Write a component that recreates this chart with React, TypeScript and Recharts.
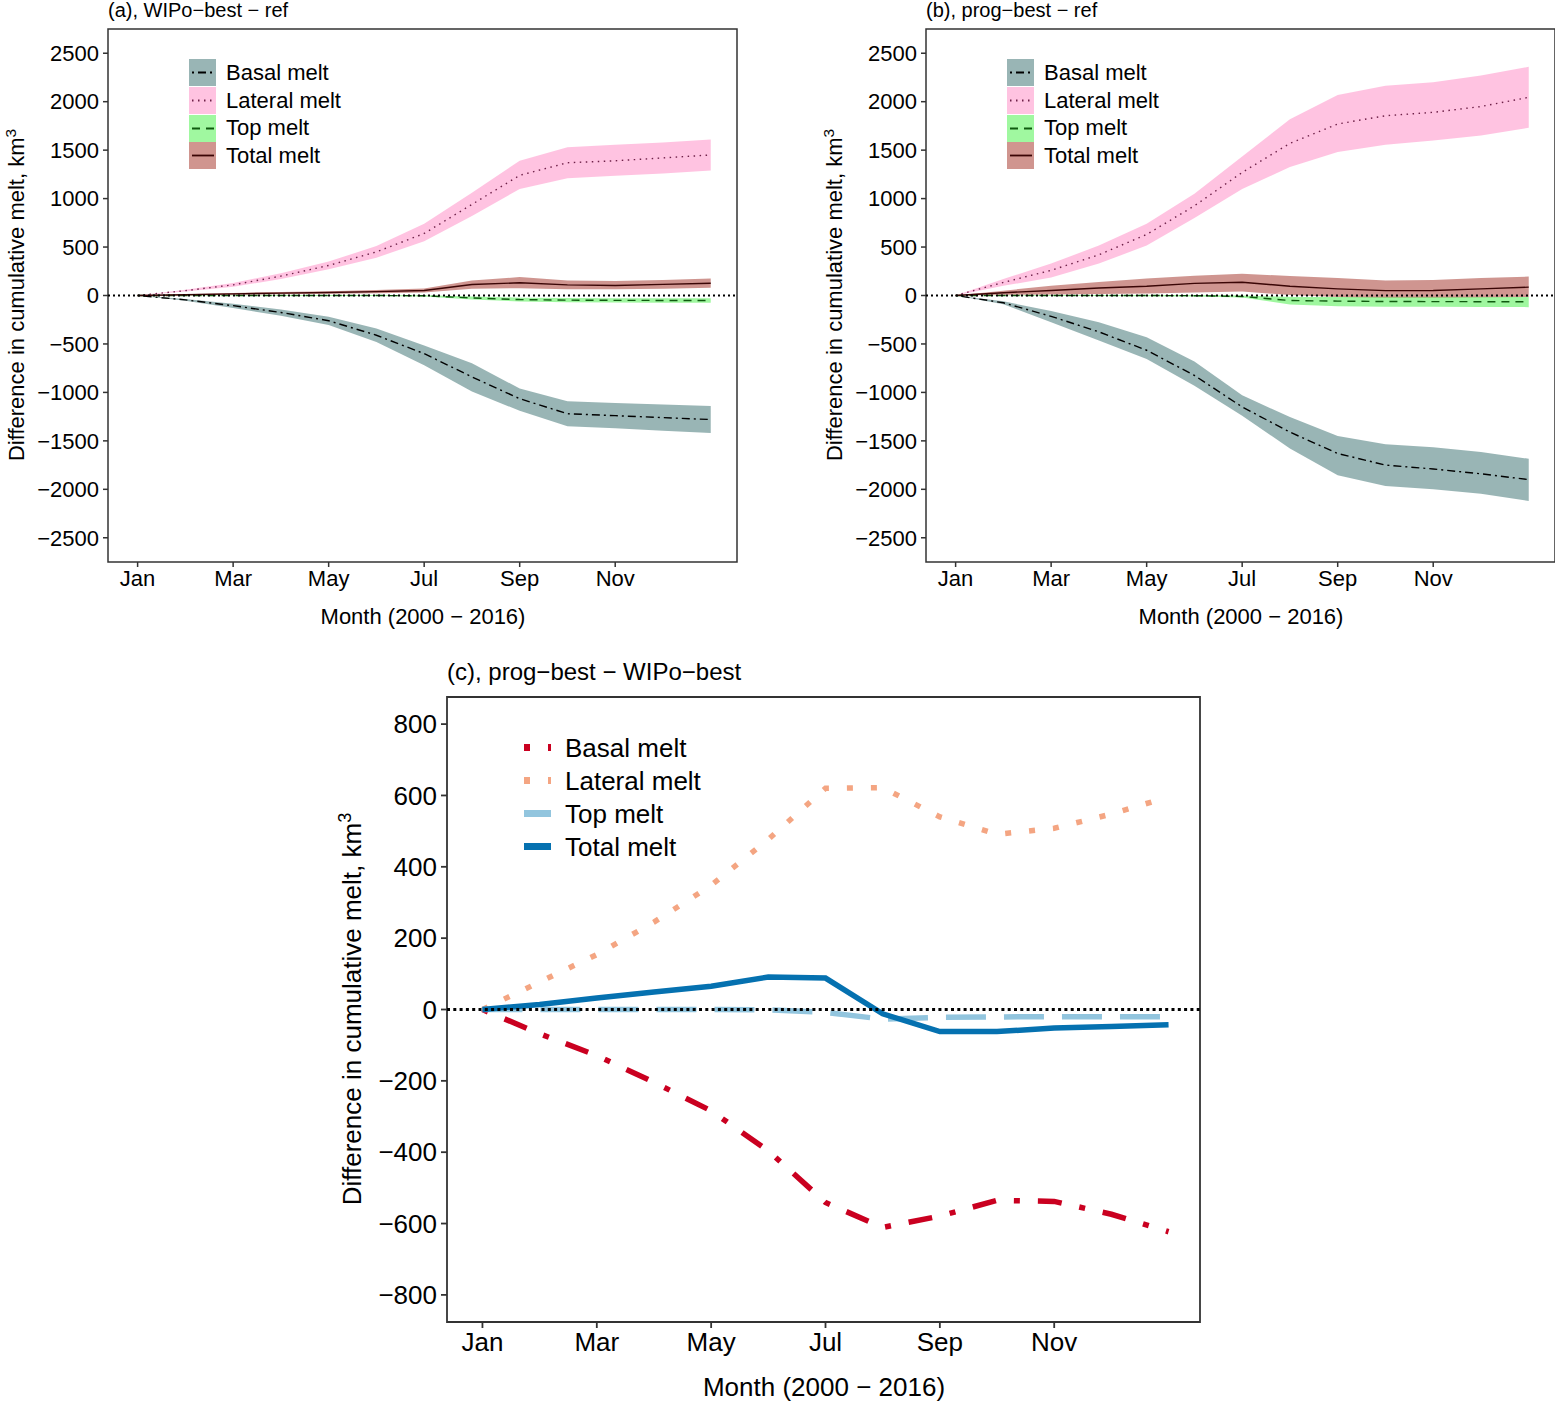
import React from "react";
import {
  ComposedChart,
  Area,
  Line,
  XAxis,
  YAxis,
  ReferenceLine,
  ReferenceArea,
  Legend,
} from "recharts";

const FONT = "'Liberation Sans', Arial, sans-serif";

const months = [0, 1, 2, 3, 4, 5, 6, 7, 8, 9, 10, 11, 12];
const monthTicks = [0, 2, 4, 6, 8, 10];
const monthLabels = ["Jan", "Mar", "May", "Jul", "Sep", "Nov"];
const seriesNames = ["Basal melt", "Lateral melt", "Top melt", "Total melt"];
const ticksAB = [-2500, -2000, -1500, -1000, -500, 0, 500, 1000, 1500, 2000, 2500];
const ticksC = [-800, -600, -400, -200, 0, 200, 400, 600, 800];

// (a) WIPo-best - ref
const basalA = [0, -45, -105, -175, -260, -410, -600, -840, -1065, -1220, -1240, -1260, -1280];
const basalALow = [0, -55, -130, -210, -305, -480, -720, -990, -1190, -1350, -1370, -1395, -1420];
const basalAHigh = [0, -35, -85, -145, -220, -340, -515, -700, -960, -1090, -1110, -1125, -1140];
const lateralA = [0, 50, 110, 200, 310, 450, 640, 940, 1240, 1370, 1390, 1420, 1450];
const lateralALow = [0, 40, 90, 170, 270, 390, 560, 820, 1100, 1210, 1235, 1260, 1290];
const lateralAHigh = [0, 60, 130, 230, 350, 510, 740, 1060, 1390, 1530, 1555, 1580, 1610];
const topA = [0, 0, 0, 0, 0, 0, -3, -25, -42, -48, -50, -51, -52];
const topALow = [0, -2, -3, -4, -5, -6, -10, -40, -62, -70, -72, -74, -76];
const topAHigh = [0, 2, 3, 4, 4, 5, 3, -10, -22, -26, -28, -28, -28];
const totalA = [0, 8, 17, 24, 31, 40, 52, 113, 131, 110, 103, 115, 127];
const totalALow = [0, 3, 8, 12, 18, 24, 32, 70, 75, 65, 65, 70, 80];
const totalAHigh = [0, 13, 26, 36, 44, 56, 72, 155, 190, 155, 150, 160, 175];

// (b) prog-best - ref
const basalB = [0, -75, -215, -375, -565, -825, -1150, -1410, -1630, -1750, -1790, -1840, -1900];
const basalBLow = [0, -90, -275, -465, -655, -930, -1240, -1580, -1855, -1965, -2000, -2045, -2120];
const basalBHigh = [0, -60, -160, -275, -430, -680, -1030, -1255, -1450, -1535, -1565, -1615, -1685];
const lateralB = [0, 135, 260, 420, 630, 925, 1270, 1570, 1770, 1855, 1890, 1950, 2045];
const lateralBLow = [0, 100, 185, 330, 515, 800, 1100, 1325, 1480, 1555, 1600, 1650, 1730];
const lateralBHigh = [0, 170, 330, 515, 740, 1050, 1435, 1820, 2070, 2165, 2200, 2270, 2360];
const topB = [0, 0, 0, 0, 0, -2, -10, -52, -58, -62, -63, -64, -65];
const topBLow = [0, -3, -5, -6, -7, -10, -20, -93, -110, -115, -117, -118, -120];
const topBHigh = [0, 3, 4, 5, 6, 5, 0, -15, -15, -15, -15, -15, -15];
const totalB = [0, 28, 52, 78, 96, 125, 137, 96, 68, 50, 52, 68, 86];
const totalBLow = [0, 8, 10, 15, 20, 30, 40, 5, -15, -20, -20, -18, -15];
const totalBHigh = [0, 50, 100, 140, 175, 205, 225, 200, 180, 155, 160, 180, 195];

// (c) prog-best - WIPo-best
const basalC = [0, -68, -129, -204, -284, -396, -541, -611, -579, -535, -538, -574, -623];
const lateralC = [0, 77, 154, 245, 348, 477, 620, 622, 540, 491, 508, 548, 596];
const topC = [0, 0, 0, 0, 0, -1, -8, -27, -22, -21, -20, -20, -20];
const totalC = [0, 14, 32, 49, 65, 91, 88, -12, -62, -62, -52, -48, -43];

const bandKeys = ["basal", "lateral", "top", "total"];
const bandFill = ["#336B6B", "#FF88C4", "#40F040", "#A02B22"];
const bandKeyFill = ["#99B5B5", "#FFC3E1", "#A0F8A0", "#D0958F"];
const bandLine = ["#000000", "#6E2048", "#0F5A0F", "#3A0505"];
const bandDash = ["2 4 8 4", "1.5 4.5", "8 6", ""];

const lineColor = ["#CA0020", "#F4A582", "#92C5DE", "#0571B0"];
const lineDash = ["6 18 24 18", "6 18", "40 18", ""];

const X_DOMAIN: [number, number] = [-0.62, 12.55];

const rowsA = months.map((m, i) => ({
  m,
  basal: basalA[i],
  basalBand: [basalALow[i], basalAHigh[i]],
  lateral: lateralA[i],
  lateralBand: [lateralALow[i], lateralAHigh[i]],
  top: topA[i],
  topBand: [topALow[i], topAHigh[i]],
  total: totalA[i],
  totalBand: [totalALow[i], totalAHigh[i]],
}));

const rowsB = months.map((m, i) => ({
  m,
  basal: basalB[i],
  basalBand: [basalBLow[i], basalBHigh[i]],
  lateral: lateralB[i],
  lateralBand: [lateralBLow[i], lateralBHigh[i]],
  top: topB[i],
  topBand: [topBLow[i], topBHigh[i]],
  total: totalB[i],
  totalBand: [totalBLow[i], totalBHigh[i]],
}));

const rowsC = months.map((m, i) => ({
  m,
  basal: basalC[i],
  lateral: lateralC[i],
  top: topC[i],
  total: totalC[i],
}));

const minus = (v: number) => String(v).replace("-", "\u2212");
const monthName = (v: number) => monthLabels[v / 2] ?? "";

function BandLegend() {
  return (
    <div style={{ fontFamily: FONT, fontSize: 22, color: "#000" }}>
      {seriesNames.map((name, i) => (
        <div key={name} style={{ display: "flex", alignItems: "center", height: 27.7 }}>
          <svg width={27} height={27} style={{ display: "block" }}>
            <rect width={27} height={27} fill={bandKeyFill[i]} />
            <line
              x1={3}
              x2={25}
              y1={13.5}
              y2={13.5}
              stroke={bandLine[i]}
              strokeWidth={1.8}
              strokeDasharray={bandDash[i] || undefined}
            />
          </svg>
          <span style={{ marginLeft: 10, lineHeight: 1 }}>{name}</span>
        </div>
      ))}
    </div>
  );
}

function LineLegend() {
  return (
    <div style={{ fontFamily: FONT, fontSize: 26, color: "#000" }}>
      {seriesNames.map((name, i) => (
        <div key={name} style={{ display: "flex", alignItems: "center", height: 33 }}>
          <svg width={27} height={33} style={{ display: "block" }}>
            <line
              x1={0}
              x2={27}
              y1={16.5}
              y2={16.5}
              stroke={lineColor[i]}
              strokeWidth={7}
              strokeDasharray={lineDash[i] || undefined}
            />
          </svg>
          <span style={{ marginLeft: 14, lineHeight: 1 }}>{name}</span>
        </div>
      ))}
    </div>
  );
}

function YLabel({ x, y, size }: { x: number; y: number; size: number }) {
  return (
    <div
      style={{
        position: "absolute",
        left: x,
        top: y,
        transform: "translate(-50%, -50%) rotate(-90deg)",
        whiteSpace: "nowrap",
        fontFamily: FONT,
        fontSize: size,
        lineHeight: 1,
        color: "#000",
      }}
    >
      Difference in cumulative melt, km
      <sup style={{ fontSize: "0.7em", lineHeight: 0, verticalAlign: "0.55em" }}>3</sup>
    </div>
  );
}

function TextAt({ x, y, size, children, center }: any) {
  return (
    <div
      style={{
        position: "absolute",
        left: x,
        top: y,
        transform: center ? "translateX(-50%)" : undefined,
        whiteSpace: "nowrap",
        fontFamily: FONT,
        fontSize: size,
        lineHeight: 1,
        color: "#000",
      }}
    >
      {children}
    </div>
  );
}

function BandPanel({ rows, title, left }: { rows: any[]; title: string; left: number }) {
  return (
    <div style={{ position: "absolute", left, top: 0, width: 745, height: 640 }}>
      <ComposedChart
        width={745}
        height={640}
        data={rows}
        margin={{ top: 29, right: 8, bottom: 38, left: 0 }}
      >
        <XAxis
          dataKey="m"
          type="number"
          domain={X_DOMAIN}
          ticks={monthTicks}
          interval={0}
          allowDataOverflow
          tickFormatter={monthName}
          axisLine={false}
          tickLine={{ stroke: "#333", strokeWidth: 1.5 }}
          tickSize={5}
          tickMargin={3}
          tick={{ fill: "#000", fontSize: 22, fontFamily: FONT }}
          height={40}
        />
        <YAxis
          type="number"
          domain={[-2750, 2750]}
          ticks={ticksAB}
          interval={0}
          allowDataOverflow
          tickFormatter={minus}
          axisLine={false}
          tickLine={{ stroke: "#333", strokeWidth: 1.5 }}
          tickSize={5}
          tickMargin={4}
          tick={{ fill: "#000", fontSize: 22, fontFamily: FONT }}
          width={108}
        />
        {bandKeys.map((k, i) => (
          <Area
            key={k + "Band"}
            dataKey={k + "Band"}
            type="linear"
            stroke="none"
            fill={bandFill[i]}
            fillOpacity={0.5}
            dot={false}
            activeDot={false}
            isAnimationActive={false}
          />
        ))}
        {bandKeys.map((k, i) => (
          <Line
            key={k}
            dataKey={k}
            type="linear"
            stroke={bandLine[i]}
            strokeWidth={1.4}
            strokeDasharray={bandDash[i] || undefined}
            dot={false}
            activeDot={false}
            isAnimationActive={false}
          />
        ))}
        <ReferenceLine y={0} stroke="#000" strokeWidth={2} strokeDasharray="2 3" />
        <ReferenceArea
          x1={X_DOMAIN[0]}
          x2={X_DOMAIN[1]}
          y1={-2750}
          y2={2750}
          fill="none"
          stroke="#333"
          strokeWidth={1.5}
        />
        <Legend
          layout="vertical"
          align="center"
          verticalAlign="middle"
          wrapperStyle={{ left: 189, top: 59, width: 240 }}
          content={() => <BandLegend />}
        />
      </ComposedChart>
      <TextAt x={108} y={0} size={20}>
        {title}
      </TextAt>
      <TextAt x={423} y={606} size={22} center>
        Month (2000 {"\u2212"} 2016)
      </TextAt>
      <YLabel x={17} y={295} size={22} />
    </div>
  );
}

function LinePanel() {
  return (
    <div style={{ position: "absolute", left: 327, top: 660, width: 880, height: 742 }}>
      <ComposedChart
        width={880}
        height={720}
        data={rowsC}
        margin={{ top: 37, right: 7, bottom: 8, left: 0 }}
      >
        <XAxis
          dataKey="m"
          type="number"
          domain={X_DOMAIN}
          ticks={monthTicks}
          interval={0}
          allowDataOverflow
          tickFormatter={monthName}
          axisLine={false}
          tickLine={{ stroke: "#333", strokeWidth: 1.8 }}
          tickSize={6}
          tickMargin={5}
          tick={{ fill: "#000", fontSize: 26, fontFamily: FONT }}
          height={50}
        />
        <YAxis
          type="number"
          domain={[-876, 876]}
          ticks={ticksC}
          interval={0}
          allowDataOverflow
          tickFormatter={minus}
          axisLine={false}
          tickLine={{ stroke: "#333", strokeWidth: 1.8 }}
          tickSize={6}
          tickMargin={4}
          tick={{ fill: "#000", fontSize: 26, fontFamily: FONT }}
          width={120}
        />
        {bandKeys.map((k, i) => (
          <Line
            key={k}
            dataKey={k}
            type="linear"
            stroke={lineColor[i]}
            strokeWidth={5.5}
            strokeDasharray={lineDash[i] || undefined}
            dot={false}
            activeDot={false}
            isAnimationActive={false}
          />
        ))}
        <ReferenceLine y={0} stroke="#000" strokeWidth={3} strokeDasharray="3 3.3" />
        <ReferenceArea
          x1={X_DOMAIN[0]}
          x2={X_DOMAIN[1]}
          y1={-876}
          y2={876}
          fill="none"
          stroke="#333"
          strokeWidth={1.8}
        />
        <Legend
          layout="vertical"
          align="center"
          verticalAlign="middle"
          wrapperStyle={{ left: 197, top: 71, width: 280 }}
          content={() => <LineLegend />}
        />
      </ComposedChart>
      <TextAt x={120} y={0} size={24}>
        (c), prog{"\u2212"}best {"\u2212"} WIPo{"\u2212"}best
      </TextAt>
      <TextAt x={497} y={714} size={26} center>
        Month (2000 {"\u2212"} 2016)
      </TextAt>
      <YLabel x={25} y={349} size={26} />
    </div>
  );
}

export default function App() {
  return (
    <div
      style={{
        position: "absolute",
        left: 0,
        top: 0,
        width: 1555,
        height: 1402,
        background: "#fff",
        overflow: "hidden",
      }}
    >
      <BandPanel rows={rowsA} title={"(a), WIPo\u2212best \u2212 ref"} left={0} />
      <BandPanel rows={rowsB} title={"(b), prog\u2212best \u2212 ref"} left={818} />
      <LinePanel />
    </div>
  );
}
